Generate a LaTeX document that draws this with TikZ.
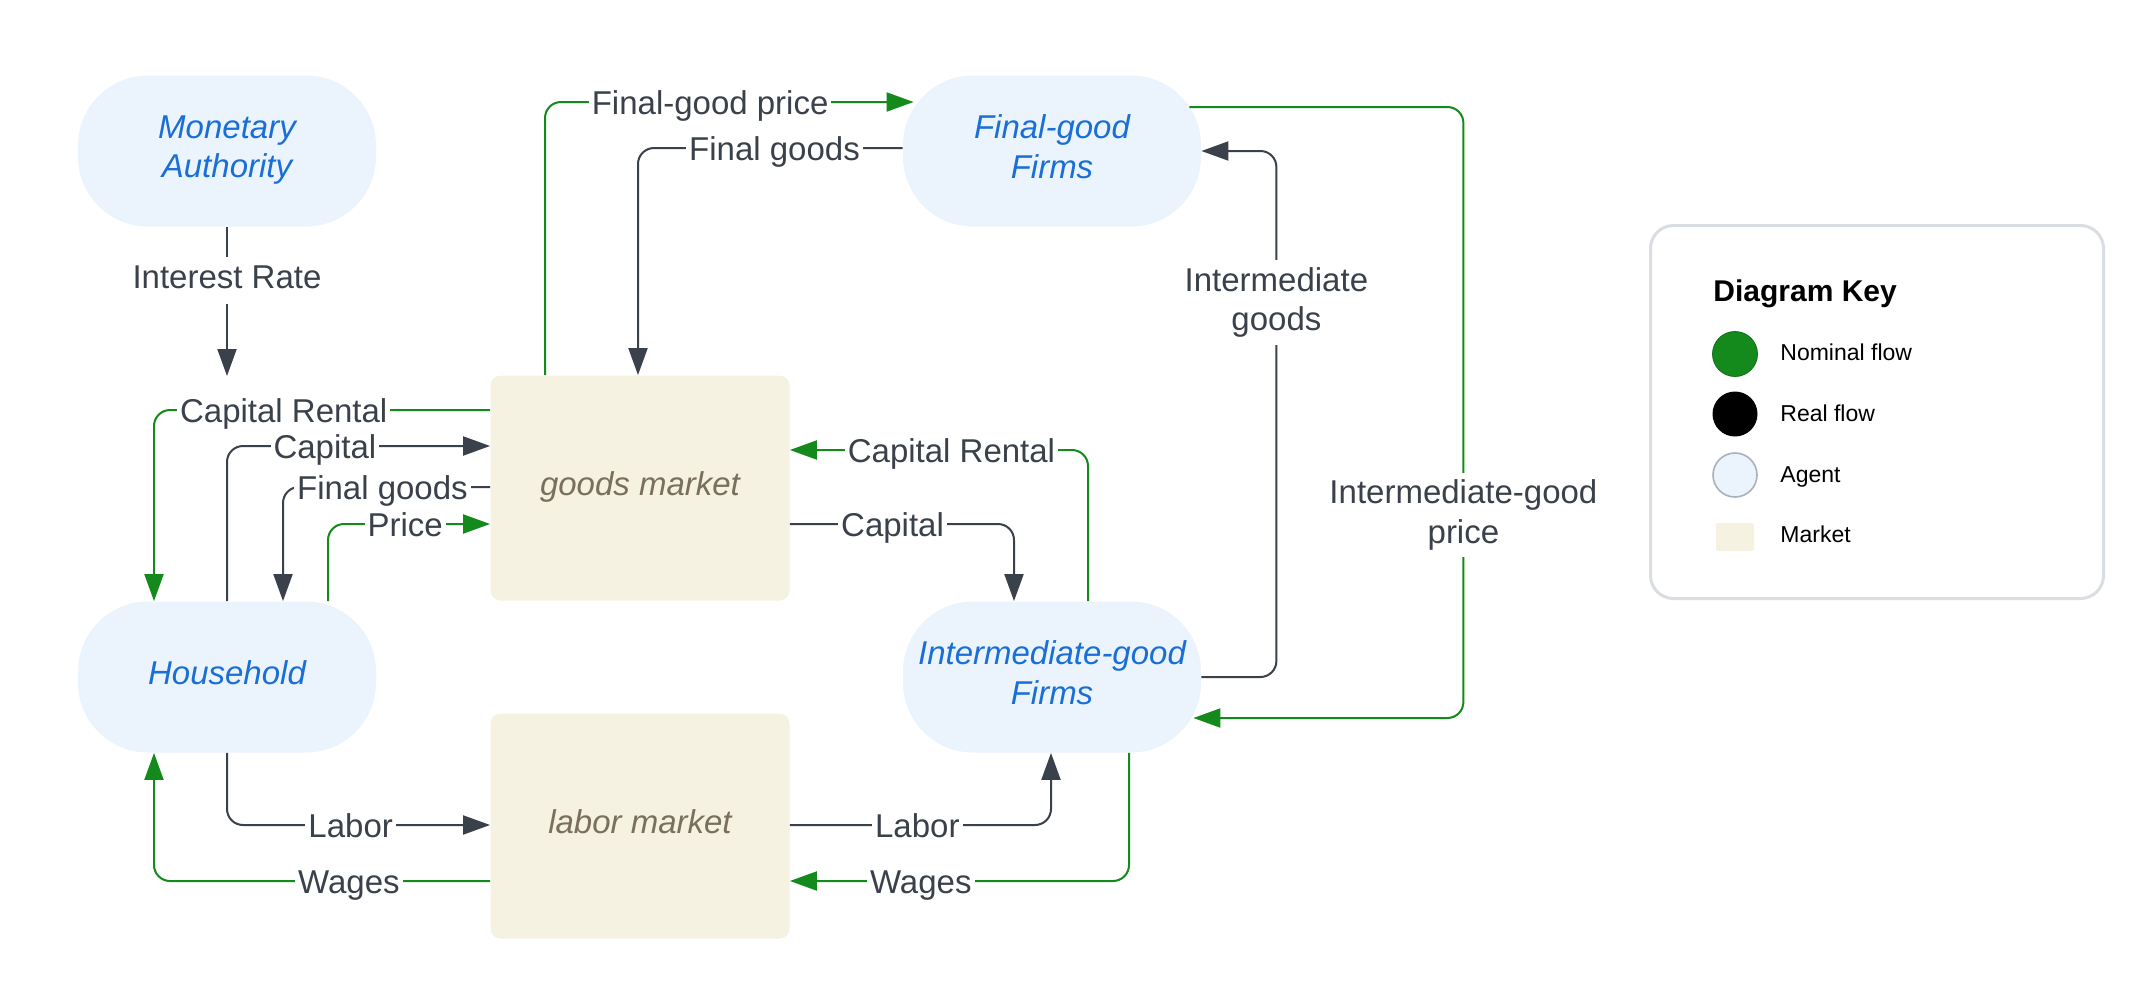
\documentclass[tikz,border=0pt]{standalone}
\usepackage{fontspec}
\setmainfont{Liberation Sans}
\usetikzlibrary{arrows.meta,calc}
\definecolor{nom}{HTML}{138A1B}
\definecolor{realc}{HTML}{3A414A}
\definecolor{lbltext}{HTML}{3A414A}
\definecolor{agentfill}{HTML}{EBF4FD}
\definecolor{agenttext}{HTML}{1A6FD6}
\definecolor{mktfill}{HTML}{F5F2E2}
\definecolor{mkttext}{HTML}{7A6F5C}
\definecolor{keyborder}{HTML}{DADDE2}
\definecolor{agentborder}{HTML}{A9B1BC}
\begin{document}
\begin{tikzpicture}[x=0.5pt,y=-0.5pt,
  agent/.style={rectangle, rounded corners=35pt, fill=agentfill, minimum width=149pt, minimum height=75.5pt, align=center, text=agenttext, font=\fontsize{16.5}{19.8}\selectfont\itshape, inner sep=0pt, text depth=4.5pt},
  market/.style={rectangle, rounded corners=5pt, fill=mktfill, minimum width=149.5pt, minimum height=112.5pt, text=mkttext, font=\fontsize{16.5}{19.8}\selectfont\itshape, text depth=4.5pt},
  conn/.style={line width=1pt, rounded corners=8pt},
  nomflow/.style={conn, draw=nom, -{Triangle[length=13.5pt,width=9.5pt]}},
  realflow/.style={conn, draw=realc, -{Triangle[length=13.5pt,width=9.5pt]}},
  lbl/.style={fill=white, text=lbltext, font=\fontsize{16.5}{19.8}\selectfont, inner xsep=1.5pt, inner ysep=0pt, text height=12pt, text depth=0pt, sharp corners},
  lblv/.style={fill=white, text=lbltext, font=\fontsize{16.5}{19.8}\selectfont, inner xsep=1.5pt, inner ysep=3.5pt, text height=12pt, text depth=4.5pt, sharp corners},
  lblm/.style={fill=white, text=lbltext, font=\fontsize{16.5}{19.8}\selectfont, inner xsep=1.5pt, inner ysep=3.5pt, align=center, sharp corners},
  keytxt/.style={anchor=west, inner sep=0pt, font=\fontsize{11.5}{14}\selectfont, text height=8.2pt, text depth=0pt},
]
\fill[white] (0,0) rectangle (2152,996);
\useasboundingbox (0,0) rectangle (2152,996);

% helper coordinates
\foreach \v in {102,107,148,410,446,450,487,524,718,825,881}{\coordinate (y\v) at (0,\v);}
\foreach \v in {154,283,328,545,638,1014,1051,1088,1129}{\coordinate (x\v) at (\v,0);}
\coordinate (irtip) at (227,376);

% agents
\node[agent] (ma) at (227,151) {Monetary\\Authority};
\node[agent] (fg) at (1052,151) {Final-good\\Firms};
\node[agent] (hh) at (227,677) {Household};
\node[agent] (ig) at (1052,677) {Intermediate-good\\Firms};
% markets
\node[market] (gm) at (640,488) {goods market};
\node[market] (lm) at (640,826) {labor market};

% connectors
\draw[realflow] (ma.south) -- node[lblv,pos=0.36]{Interest Rate} (irtip);

\draw[nomflow] (gm.west |- y410) -| node[lbl,pos=0.307]{Capital Rental} (hh.north -| x154);
\draw[realflow] (hh.north) |- node[lbl,pos=0.686]{Capital} (gm.west |- y446);
\draw[realflow] (gm.west |- y487) -| node[lbl,pos=0.26]{Final goods} (hh.north -| x283);
\draw[nomflow] (hh.north -| x328) |- node[lbl,pos=0.738]{Price} (gm.west |- y524);

\draw[nomflow] (gm.north -| x545) |- node[lbl,pos=0.724]{Final-good price} ($(fg.west |- y102)+(11,0)$);
\draw[realflow] (fg.west |- y148) -| node[lbl,pos=0.242]{Final goods} (gm.north -| x638);

\draw[realflow] (ig.east) -| node[lblm,pos=0.856]{Intermediate\\goods} ($(fg.east)+(75,0)$) -- (fg.east);
\draw[nomflow] ($(fg.east |- y107)+(-12,0)$) -| node[lblm,pos=0.834]{Intermediate-good\\price} ($(ig.east |- y718)+(262,0)$) -- ($(ig.east |- y718)+(-8,0)$);

\draw[nomflow] (ig.north -| x1088) |- node[lbl,pos=0.729]{Capital Rental} (gm.east |- y450);
\draw[realflow] (gm.east |- y524) -| node[lbl,pos=0.229]{Capital} (ig.north -| x1014);

\draw[realflow] (hh.south) |- node[lbl,pos=0.735]{Labor} (lm.west |- y825);
\draw[nomflow] (lm.west |- y881) -| node[lbl,pos=0.21]{Wages} (hh.south -| x154);
\draw[realflow] (lm.east |- y825) -| node[lbl,pos=0.244]{Labor} (ig.south -| x1051);
\draw[nomflow] (ig.south -| x1129) |- node[lbl,pos=0.807]{Wages} (lm.east |- y881);

% key
\node[draw=keyborder, line width=1.5pt, rounded corners=11.5pt, minimum width=226.5pt, minimum height=186.5pt] (key) at (1877,412) {};
\node[anchor=west, inner sep=0pt, font=\fontsize{15}{18}\selectfont\bfseries, text height=10.8pt, text depth=0pt] (keytitle) at (1713,291) {Diagram Key};
\node[circle, fill=nom, draw=nom!80!black, line width=0.4pt, minimum size=22.5pt, inner sep=0pt] (kc1) at (1735,354) {};
\node[circle, fill=black, minimum size=22.5pt, inner sep=0pt] (kc2) at (1735,414) {};
\node[circle, fill=agentfill, draw=agentborder, line width=0.8pt, minimum size=22pt, inner sep=0pt] (kc3) at (1735,475) {};
\node[rectangle, fill=mktfill, minimum width=19pt, minimum height=14pt, inner sep=0pt, rounded corners=1pt] (kc4) at (1735,537) {};
\node[keytxt] (kt1) at (1780,352) {Nominal flow};
\node[keytxt] (kt2) at (1780,413) {Real flow};
\node[keytxt] (kt3) at (1780,474) {Agent};
\node[keytxt] (kt4) at (1780,534) {Market};
\end{tikzpicture}
\end{document}
